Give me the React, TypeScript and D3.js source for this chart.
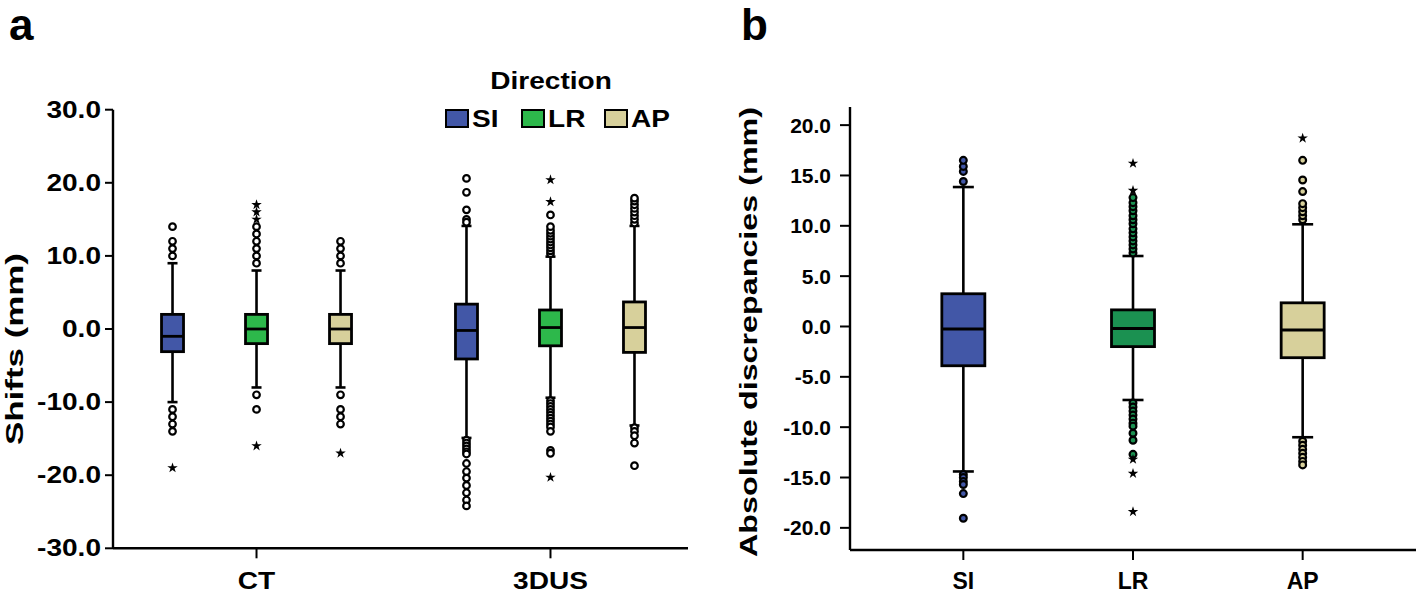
import React from 'react';
import * as d3 from 'd3';

// ---------- data ----------
const directions = ['SI', 'LR', 'AP'];
const modalities = ['CT', '3DUS'];
const shiftTicks = [30, 20, 10, 0, -10, -20, -30];
const discTicks = [20, 15, 10, 5, 0, -5, -10, -15, -20];

// box stats per direction (SI, LR, AP): [whiskerLow, q1, median, q3, whiskerHigh]
const ctBoxes = [
  [-10.0, -3.1, -1.0, 2.0, 9.0],
  [-8.0, -2.0, 0.0, 2.0, 8.0],
  [-8.0, -2.0, 0.0, 2.0, 8.0],
];
const usBoxes = [
  [-14.9, -4.1, -0.2, 3.4, 14.1],
  [-9.4, -2.3, 0.2, 2.6, 9.9],
  [-13.2, -3.2, 0.2, 3.7, 14.1],
];
const discBoxes = [
  [-14.4, -3.9, -0.25, 3.25, 13.85],
  [-7.3, -2.0, -0.2, 1.65, 7.0],
  [-11.0, -3.1, -0.35, 2.35, 10.15],
];

// outliers (circles) and extremes (stars)
const ctCircles = [
  [14.0, 12.0, 11.0, 10.0, -11.0, -12.0, -13.0, -14.0],
  [9.0, 10.0, 11.0, 12.0, 13.0, 14.0, -9.0, -11.0],
  [9.0, 10.0, 11.0, 12.0, -9.0, -11.0, -12.0, -13.0],
];
const ctStars = [[-19.0], [15.0, 16.0, 17.0, -16.0], [-17.0]];
const usCircles = [
  [20.6, 18.7, 16.3, 15.0, 14.6, -15.2, -15.6, -16.0, -16.4, -16.8, -17.1, -18.4, -19.5, -20.4, -21.4, -22.4, -23.4, -24.2],
  [10.3, 10.7, 11.1, 11.5, 11.9, 12.3, 12.7, 13.1, 13.5, 14.0, 15.6,
    -9.8, -10.2, -10.6, -11.0, -11.4, -11.8, -12.2, -12.6, -13.0, -13.4, -14.0, -16.6, -17.0],
  [14.5, 15.0, 15.5, 16.0, 16.5, 17.0, 17.5, 17.9, -13.5, -14.0, -14.6, -15.6, -18.7],
];
const usStars = [[], [17.4, 20.4, -20.3], []];
const discCircles = [
  [14.4, 15.4, 15.9, 16.5, -14.7, -15.0, -15.4, -15.7, -16.6, -19.05],
  [7.3, 7.7, 8.1, 8.5, 8.9, 9.3, 9.7, 10.2, 10.6, 11.0, 11.5, 11.9, 12.3, 12.8,
    -7.6, -8.0, -8.4, -8.8, -9.2, -9.6, -9.9, -10.6, -11.3, -12.7],
  [10.6, 11.0, 11.4, 11.8, 12.2, 13.4, 14.55, 16.5, -11.4, -11.8, -12.2, -12.6, -13.0, -13.4, -13.75],
];
const discStars = [[], [13.5, 16.2, -13.2, -14.6, -18.4], [18.7]];

const colorsA = ['#4257a7', '#2db84b', '#d7d09b'];
const colorsB = ['#4257a7', '#1b9151', '#d7d09b'];

// ---------- layout ----------
const W = 1418;
const H = 593;
const FONT = '"Liberation Sans", Arial, Helvetica, sans-serif';
const SX = 1.22; // horizontal stretch of panel a lettering
const legendX = [446, 522, 605];
const fmt = (t: number) => d3.format('.1f')(t).replace('\u2212', '-');

const yA = d3.scaleLinear().domain([-30, 30]).range([548.3, 109.7]);
const xA = d3.scalePoint<string>().domain(modalities).range([116, 691]).padding(0.478);
const innerA = d3.scalePoint<string>().domain(directions).range([-84, 84]);
const yB = d3.scaleLinear().domain([-22.2, 21.8]).range([550, 107]);
const xB = d3.scalePoint<string>().domain(directions).range([850, 1416]).padding(0.668);

const starPath = d3.symbol().type(d3.symbolStar).size(34)() as string;

function Box({ cx, stats, y, bw, cap, fill, circles, stars, circleFill, r }: any) {
  const [wl, q1, med, q3, wh] = stats;
  return (
    <g>
      <line x1={cx} x2={cx} y1={y(q3)} y2={y(wh)} stroke="#000" strokeWidth={2.6} />
      <line x1={cx} x2={cx} y1={y(q1)} y2={y(wl)} stroke="#000" strokeWidth={2.6} />
      <line x1={cx - cap / 2} x2={cx + cap / 2} y1={y(wh)} y2={y(wh)} stroke="#000" strokeWidth={2.6} />
      <line x1={cx - cap / 2} x2={cx + cap / 2} y1={y(wl)} y2={y(wl)} stroke="#000" strokeWidth={2.6} />
      <rect x={cx - bw / 2} y={y(q3)} width={bw} height={y(q1) - y(q3)} fill={fill} stroke="#000" strokeWidth={2.8} />
      <line x1={cx - bw / 2} x2={cx + bw / 2} y1={y(med)} y2={y(med)} stroke="#000" strokeWidth={2.8} />
      {circles.map((v: number, i: number) => (
        <circle key={'c' + i} cx={cx} cy={y(v)} r={r} fill={circleFill} stroke="#000" strokeWidth={2.2} />
      ))}
      {stars.map((v: number, i: number) => (
        <path key={'s' + i} d={starPath} transform={`translate(${cx},${y(v)})`} fill="#000" />
      ))}
    </g>
  );
}

function SText({ x, y, anchor = 'middle', size = 23, children }: any) {
  return (
    <text transform={`translate(${x},${y}) scale(${SX},1)`} textAnchor={anchor}
      fontFamily={FONT} fontWeight="bold" fontSize={size} fill="#000">{children}</text>
  );
}

export default function App() {
  const groupsA = [
    { m: 'CT', boxes: ctBoxes, circles: ctCircles, stars: ctStars },
    { m: '3DUS', boxes: usBoxes, circles: usCircles, stars: usStars },
  ];
  const axisEndA = 688;
  return (
    <svg width={W} height={H} style={{ position: 'absolute', left: 0, top: 0, background: '#fff' }}>
      <rect width={W} height={H} fill="#fff" />
      {/* panel letters */}
      <text x={9} y={40} fontFamily={FONT} fontWeight="bold" fontSize={44}>a</text>
      <text x={741} y={40} fontFamily={FONT} fontWeight="bold" fontSize={44}>b</text>

      {/* ---------- panel a ---------- */}
      <line x1={113} x2={113} y1={yA(30)} y2={yA(-30)} stroke="#000" strokeWidth={2.4} />
      <line x1={113} x2={axisEndA} y1={yA(-30)} y2={yA(-30)} stroke="#000" strokeWidth={2.4} />
      {shiftTicks.map((t) => (
        <g key={'ta' + t}>
          <line x1={105} x2={113} y1={yA(t)} y2={yA(t)} stroke="#000" strokeWidth={2} />
          <SText x={101} y={yA(t) + 8} anchor="end">{fmt(t)}</SText>
        </g>
      ))}
      {modalities.map((m) => (
        <g key={'xa' + m}>
          <line x1={xA(m)} x2={xA(m)} y1={yA(-30)} y2={yA(-30) + 10} stroke="#000" strokeWidth={2} />
          <SText x={xA(m)} y={589}>{m}</SText>
        </g>
      ))}
      <text transform={`translate(23,349) rotate(-90)`} textAnchor="middle" fontFamily={FONT}
        fontWeight="bold" fontSize={24} textLength={192} lengthAdjust="spacingAndGlyphs">Shifts (mm)</text>
      {groupsA.map((g) =>
        directions.map((d, i) => (
          <Box key={g.m + d} cx={(xA(g.m) as number) + (innerA(d) as number)} stats={g.boxes[i]} y={yA}
            bw={22} cap={10} fill={colorsA[i]} circles={g.circles[i]} stars={g.stars[i]} circleFill="#fff" r={3.3} />
        ))
      )}
      {/* legend */}
      <SText x={551} y={89}>Direction</SText>
      {directions.map((d, i) => (
        <g key={'lg' + d}>
          <rect x={legendX[i]} y={110} width={22} height={17} fill={colorsA[i]} stroke="#000" strokeWidth={2} />
          <SText x={legendX[i] + 26} y={127} anchor="start">{d}</SText>
        </g>
      ))}

      {/* ---------- panel b ---------- */}
      <line x1={850} x2={850} y1={yB.range()[1]} y2={yB.range()[0]} stroke="#000" strokeWidth={2.4} />
      <line x1={850} x2={1416} y1={yB.range()[0]} y2={yB.range()[0]} stroke="#000" strokeWidth={2.4} />
      {discTicks.map((t) => (
        <g key={'tb' + t}>
          <line x1={840} x2={850} y1={yB(t)} y2={yB(t)} stroke="#000" strokeWidth={2} />
          <text x={831} y={yB(t) + 7.5} textAnchor="end" fontFamily={FONT} fontWeight="bold" fontSize={21}>
            {fmt(t)}
          </text>
        </g>
      ))}
      {directions.map((d) => (
        <g key={'xb' + d}>
          <line x1={xB(d)} x2={xB(d)} y1={yB.range()[0]} y2={yB.range()[0] + 10} stroke="#000" strokeWidth={2} />
          <text x={xB(d)} y={589} textAnchor="middle" fontFamily={FONT} fontWeight="bold" fontSize={23}>{d}</text>
        </g>
      ))}
      <text transform={`translate(757,332) rotate(-90)`} textAnchor="middle" fontFamily={FONT}
        fontWeight="bold" fontSize={24} textLength={450} lengthAdjust="spacingAndGlyphs">Absolute discrepancies (mm)</text>
      {directions.map((d, i) => (
        <Box key={'b' + d} cx={xB(d) as number} stats={discBoxes[i]} y={yB} bw={43} cap={21} fill={colorsB[i]}
          circles={discCircles[i]} stars={discStars[i]} circleFill={colorsB[i]} r={3.4} />
      ))}
    </svg>
  );
}
